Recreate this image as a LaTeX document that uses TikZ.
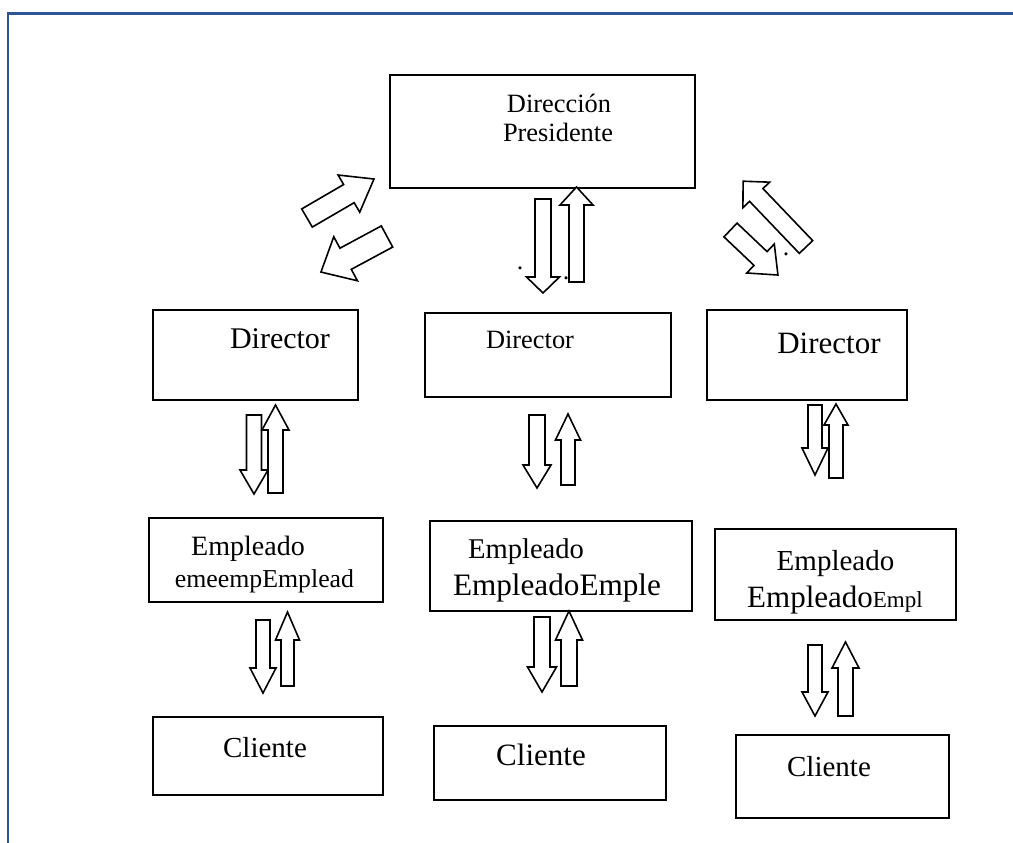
\documentclass[tikz,border=0pt]{standalone}
\usepackage{fontspec}
\setmainfont{Liberation Serif}
\definecolor{frameblue}{HTML}{2F5597}
\tikzset{
  box/.style={draw=black, line width=2pt, fill=white, inner sep=0pt},
  barrow/.style={draw=black, line width=1.6pt, fill=white, line join=miter},
  lbl/.style={anchor=base, inner sep=0pt},
  framel/.style={draw=frameblue, line width=2.6pt},
}
\newcommand\fs[1]{\fontsize{#1}{#1}\selectfont}
% tail, angle, length, shaft width, head width, head length
\newcommand\blockarr[6]{%
  \draw[barrow, shift={#1}, rotate=#2] (0,-#4/2) -- (#3-#6,-#4/2) -- (#3-#6,-#5/2) -- (#3,0)
    -- (#3-#6,#5/2) -- (#3-#6,#4/2) -- (0,#4/2) -- cycle;}
\begin{document}
\begin{tikzpicture}[x=1pt,y=-1pt]
\useasboundingbox (0,0) rectangle (1013,843);
% frame
\coordinate (f1) at (8,843);
\coordinate (f2) at (8,13.8);
\coordinate (f3) at (1013,13.8);
\draw[framel] (f1) -- (f2) -- (f3);
% boxes
\node[box, minimum width=305pt, minimum height=113pt] (top) at (542.5,131.5) {};
\node[box, minimum width=205pt, minimum height=90pt] (dirL) at (255.5,355) {};
\node[box, minimum width=246pt, minimum height=84pt] (dirM) at (548,355) {};
\node[box, minimum width=200pt, minimum height=90pt] (dirR) at (807,355) {};
\node[box, minimum width=234pt, minimum height=84pt] (empL) at (266,560) {};
\node[box, minimum width=262pt, minimum height=90pt] (empM) at (561,566) {};
\node[box, minimum width=241pt, minimum height=91pt] (empR) at (835.5,574.5) {};
\node[box, minimum width=230pt, minimum height=78pt] (cliL) at (268,756) {};
\node[box, minimum width=232pt, minimum height=74pt] (cliM) at (550,763) {};
\node[box, minimum width=213pt, minimum height=83pt] (cliR) at (842.5,776.5) {};
% texts
\node[lbl] (tTop1) at (559,113) {\fs{26.4}Dirección};
\node[lbl] (tTop2) at (558,142) {\fs{26.4}Presidente};
\node[lbl] (tDirL) at (280,348) {\fs{30}Director};
\node[lbl] (tDirM) at (530,348) {\fs{26.4}Director};
\node[lbl] (tDirR) at (829,353) {\fs{31}Director};
\node[lbl] (tEmpL1) at (248,555) {\fs{28}Empleado};
\node[lbl] (tEmpL2) at (264.5,587) {\fs{25.8}emeempEmplead};
\node[lbl] (tEmpM1) at (526,558) {\fs{28.6}Empleado};
\node[lbl] (tEmpM2) at (557,595) {\fs{31.2}EmpleadoEmple};
\node[lbl] (tEmpR1) at (835.5,570) {\fs{29}Empleado};
\node[lbl, anchor=base west] (tEmpR2) at (747,607) {\fs{31}Empleado\fs{23}Empl};
\node[lbl] (tCliL) at (265,757) {\fs{29}Cliente};
\node[lbl] (tCliM) at (541,765) {\fs{31}Cliente};
\node[lbl] (tCliR) at (829,776) {\fs{29}Cliente};
% dots
\node[lbl] (dot1) at (520,269.5) {\fs{26}.};
\node[lbl] (dot2) at (566,279.5) {\fs{26}.};
\node[lbl] (dot3) at (786,255.5) {\fs{26}.};
% diagonal arrows
\blockarr{(307,218)}{30.2}{77.5}{21}{43}{29}
\blockarr{(387,236.5)}{-151.7}{75}{24}{50}{28}
\blockarr{(806,247)}{133.7}{91}{18.5}{37}{19}
\blockarr{(730.5,230)}{-43.5}{65.4}{19}{40}{24}
% vertical arrows top-middle
\blockarr{(543,199)}{-90}{94}{16}{33}{16}
\blockarr{(576.5,282)}{90}{95}{15}{33}{18}
% director -> empleado
\blockarr{(254,415)}{-90}{79}{15}{28}{24}
\blockarr{(275.5,493)}{90}{88}{15}{27}{25}
\blockarr{(537,415)}{-90}{73}{16}{28}{23}
\blockarr{(568,485)}{90}{71}{14}{25}{26}
\blockarr{(815,405)}{-90}{70}{14}{26}{27}
\blockarr{(836,478)}{90}{74}{14}{24}{21}
% empleado -> cliente
\blockarr{(263,620)}{-90}{73}{14}{26}{25}
\blockarr{(287.5,686)}{90}{74}{13}{24}{28}
\blockarr{(542,617)}{-90}{75}{16}{29}{25}
\blockarr{(569,686)}{90}{75}{16}{27}{29}
\blockarr{(815,645)}{-90}{71}{14}{26}{24}
\blockarr{(845.5,716)}{90}{74}{15}{27}{26}
\end{tikzpicture}
\end{document}
